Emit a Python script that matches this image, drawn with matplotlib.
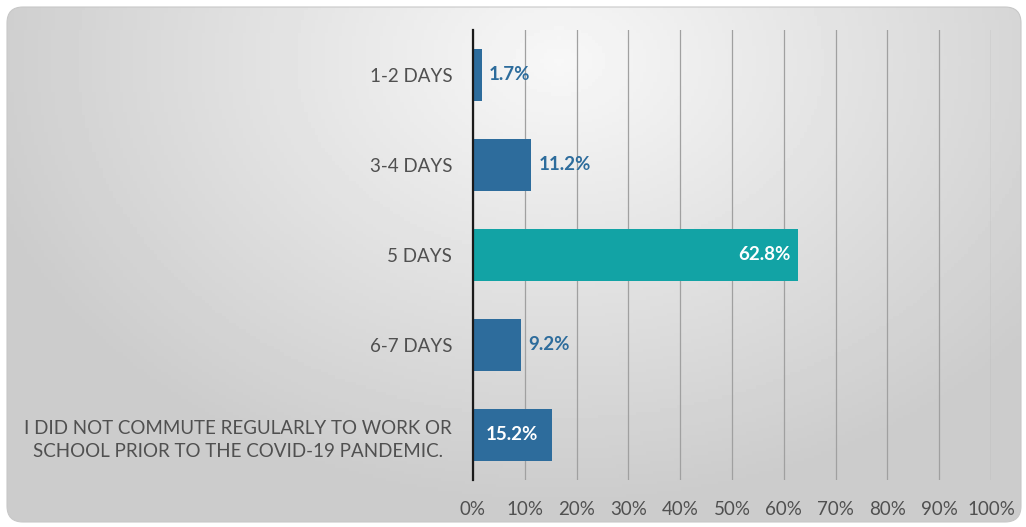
import numpy as np
import matplotlib
matplotlib.use("Agg")
from matplotlib import pyplot as plt
from matplotlib.patches import FancyBboxPatch

plt.rcParams["font.family"] = ["Lato", "DejaVu Sans"]

categories = [
    "1-2 DAYS",
    "3-4 DAYS",
    "5 DAYS",
    "6-7 DAYS",
    "I DID NOT COMMUTE REGULARLY TO WORK OR\nSCHOOL PRIOR TO THE COVID-19 PANDEMIC.",
]
values = [1.7, 11.2, 62.8, 9.2, 15.2]
bar_colors = ["#2d6c9c", "#2d6c9c", "#12a3a5", "#2d6c9c", "#2d6c9c"]
xticks = [0, 10, 20, 30, 40, 50, 60, 70, 80, 90, 100]

W, H = 1026, 527
fig = plt.figure(figsize=(W / 100, H / 100), dpi=100)
fig.patch.set_facecolor("white")

# background panel with soft gray gradient and rounded corners
bg = fig.add_axes([0, 0, 1, 1], zorder=0)
bg.set_xlim(0, W)
bg.set_ylim(H, 0)
bg.axis("off")
gx, gy = np.meshgrid(np.linspace(0, W, 300), np.linspace(0, H, 160))
d = np.sqrt(((gx - 560) / 700) ** 2 + ((gy - 60) / 520) ** 2)
shade = np.clip(0.97 - 0.2 * d, 0.80, 0.97)
img = bg.imshow(shade, cmap="gray", vmin=0, vmax=1, extent=[0, W, H, 0], aspect="auto")
panel = FancyBboxPatch((7, 7), W - 12, H - 12, boxstyle="round,pad=0,rounding_size=16",
                       facecolor="none", edgecolor="#c8c8c8", linewidth=0.8)
bg.add_patch(panel)
img.set_clip_path(panel)

ax = fig.add_axes([473 / W, 1 - 480 / H, (991 - 473) / W, 450 / H], zorder=1)
ax.patch.set_alpha(0)

y = np.arange(len(categories))
ax.barh(y, values, height=0.58, color=bar_colors, zorder=3)

for yi, v in zip(y, values):
    if v > 50:
        ax.text(v - 1.5, yi, f"{v:.1f}%", ha="right", va="center", color="white",
                fontsize=13.5, fontweight="bold", zorder=4)
    elif v > 14:
        ax.text(v / 2, yi, f"{v:.1f}%", ha="center", va="center", color="white",
                fontsize=13.5, fontweight="bold", zorder=4)
    else:
        ax.text(v + 1.4, yi, f"{v:.1f}%", ha="left", va="center", color="#2d6c9c",
                fontsize=13.5, fontweight="bold", zorder=4)

ax.set_xlim(0, 100)
ax.set_ylim(len(categories) - 0.5, -0.5)
ax.set_xticks(xticks)
ax.set_xticklabels([f"{t}%" for t in xticks])
ax.set_yticks(y)
ax.set_yticklabels(categories, linespacing=1.45)
ax.tick_params(axis="both", length=0, labelsize=13.5, labelcolor="#505050")
ax.tick_params(axis="x", pad=15)
ax.tick_params(axis="y", pad=15)

ax.grid(axis="x", color="#a0a0a0", linewidth=0.9, zorder=0)
for t in ax.get_yticklabels():
    t.set_horizontalalignment("right")
    t.set_multialignment("center")
for side in ["top", "right", "bottom"]:
    ax.spines[side].set_visible(False)
ax.spines["left"].set_color("#1a1a1a")
ax.spines["left"].set_linewidth(1.6)
ax.spines["left"].set_zorder(5)

fig.savefig("out.png", dpi=100)
